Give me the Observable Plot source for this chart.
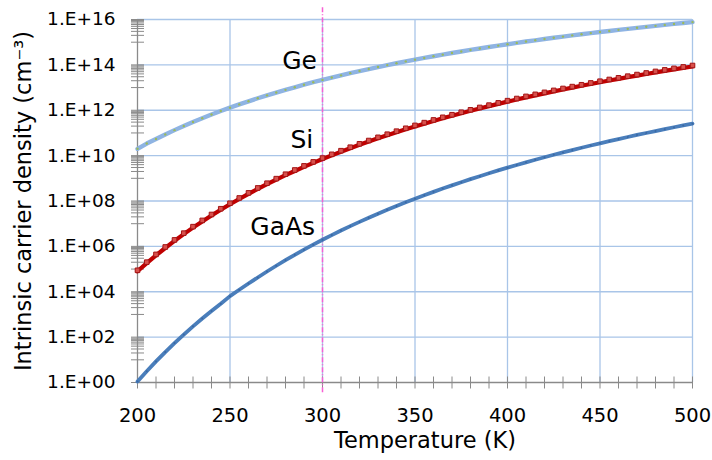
<!DOCTYPE html>
<html><head><meta charset="utf-8">
<script src="https://cdn.jsdelivr.net/npm/d3@7"></script>
<script src="https://cdn.jsdelivr.net/npm/@observablehq/plot@0.6"></script>
<style>html,body{margin:0;padding:0;background:#fff}#chart{width:712px;height:460px}</style>
</head><body><div id="chart"></div>
<script>
// ---- Data ----
const temperatureK = [200,205,210,215,220,225,230,235,240,245,250,255,260,265,270,275,280,285,290,295,
  300,305,310,315,320,325,330,335,340,345,350,355,360,365,370,375,380,385,390,395,
  400,405,410,415,420,425,430,435,440,445,450,455,460,465,470,475,480,485,490,495,500];
const geDensity = [2.0e10,3.4e10,5.4e10,8.6e10,1.33e11,2.03e11,3.04e11,4.46e11,6.47e11,9.23e11,
  1.30e12,1.81e12,2.48e12,3.37e12,4.53e12,6.02e12,7.93e12,1.03e13,1.34e13,1.72e13,
  2.18e13,2.76e13,3.46e13,4.31e13,5.34e13,6.56e13,8.03e13,9.76e13,1.18e14,1.42e14,
  1.70e14,2.02e14,2.40e14,2.83e14,3.33e14,3.90e14,4.55e14,5.29e14,6.13e14,7.07e14,
  8.13e14,9.32e14,1.07e15,1.21e15,1.38e15,1.56e15,1.76e15,1.99e15,2.24e15,2.51e15,
  2.81e15,3.13e15,3.49e15,3.88e15,4.30e15,4.76e15,5.25e15,5.79e15,6.38e15,7.00e15,7.68e15];
const siDensity = [7.97e4,1.82e5,4.00e5,8.49e5,1.74e6,3.46e6,6.69e6,1.26e7,2.30e7,4.12e7,
  7.19e7,1.23e8,2.06e8,3.40e8,5.49e8,8.72e8,1.37e9,2.10e9,3.19e9,4.78e9,
  7.06e9,1.03e10,1.49e10,2.12e10,3.00e10,4.18e10,5.79e10,7.93e10,1.08e11,1.45e11,
  1.94e11,2.57e11,3.38e11,4.41e11,5.72e11,7.37e11,9.44e11,1.20e12,1.52e12,1.91e12,
  2.39e12,2.97e12,3.68e12,4.53e12,5.55e12,6.77e12,8.23e12,9.95e12,1.20e13,1.44e13,
  1.72e13,2.05e13,2.43e13,2.87e13,3.38e13,3.97e13,4.65e13,5.43e13,6.32e13,7.33e13,8.48e13];
const gaasDensity = [1.10e0,3.14e0,8.50e0,2.20e1,5.45e1,1.30e2,2.99e2,6.62e2,1.42e3,2.96e3,
  6.40e3,1.22e4,2.30e4,4.25e4,7.79e4,1.40e5,2.46e5,4.23e5,7.17e5,1.19e6,
  1.95e6,3.14e6,4.98e6,7.79e6,1.20e7,1.83e7,2.75e7,4.09e7,6.02e7,8.74e7,
  1.26e8,1.79e8,2.53e8,3.54e8,4.90e8,6.74e8,9.19e8,1.24e9,1.67e9,2.23e9,
  2.94e9,3.87e9,5.06e9,6.57e9,8.48e9,1.09e10,1.39e10,1.76e10,2.22e10,2.79e10,
  3.49e10,4.34e10,5.38e10,6.63e10,8.14e10,9.95e10,1.21e11,1.47e11,1.78e11,2.14e11,2.57e11];

const xTickValues = [200,250,300,350,400,450,500];
const xTickLabels = ["200","250","300","350","400","450","500"];
const yTickValues = [1e0,1e2,1e4,1e6,1e8,1e10,1e12,1e14,1e16];
const yTickLabels = ["1.E+00","1.E+02","1.E+04","1.E+06","1.E+08","1.E+10","1.E+12","1.E+14","1.E+16"];
const materialNames = ["Ge","Si","GaAs"];
const materialLabelT = [297,295,296];
const materialLabelN = [1.5e14,5.0e10,6.9e6];
const referenceTemperature = 300;
const xTitle = "Temperature (K)";
const yTitle = "Intrinsic carrier density (cm\u207B\u00B3)";

// ---- Derived tables ----
const series = (vals) => temperatureK.map((T, i) => ({T, n: vals[i]}));
const ge = series(geDensity), si = series(siDensity), gaas = series(gaasDensity);
const xMinor = d3.range(200, 501, 10);
const yMinor = [];
for (let e = 0; e <= 16; e += 2) {
  yMinor.push(Math.pow(10, e));
  if (e < 16) for (let k = 1; k <= 9; k++) yMinor.push(k * Math.pow(10, e + 1));
}
const labels = materialNames.map((name, i) => ({name, T: materialLabelT[i], n: materialLabelN[i]}));
const xTicks = xTickValues.map((v, i) => ({v, label: xTickLabels[i]}));
const yTicks = yTickValues.map((v, i) => ({v, label: yTickLabels[i]}));

const hTick = {draw(ctx, size) { const r = Math.sqrt(size / Math.PI); ctx.moveTo(-r, 0); ctx.lineTo(r, 0); }};
const vTick = {draw(ctx, size) { const r = Math.sqrt(size / Math.PI); ctx.moveTo(0, -r); ctx.lineTo(0, r); }};

const font = "'DejaVu Sans', Verdana, sans-serif";
const gridColor = "#a9c5e8";
const axisColor = "#8a8a8a";

const chart = Plot.plot({
  width: 712, height: 460,
  marginLeft: 137, marginRight: 20, marginTop: 19, marginBottom: 78,
  style: {fontFamily: font, background: "#fff", overflow: "visible"},
  x: {domain: [200, 500], axis: null},
  y: {type: "log", domain: [1, 1e16], axis: null},
  marks: [
    Plot.ruleY(yTickValues.slice(1), {stroke: gridColor, strokeWidth: 1.3}),
    Plot.ruleX(xTickValues.slice(1), {y1: 1, y2: 1e16, stroke: gridColor, strokeWidth: 1.3}),
    Plot.ruleX([200], {y1: 1, y2: 1e16, stroke: axisColor, strokeWidth: 1.3}),
    Plot.ruleY([1], {x1: 200, x2: 500, stroke: axisColor, strokeWidth: 1.3}),
    Plot.dot(yMinor, {x: () => 200, y: d => d, symbol: hTick, r: 6.5, fill: "none", stroke: axisColor, strokeWidth: 1}),
    Plot.dot(xMinor, {x: d => d, y: () => 1, symbol: vTick, r: 6, fill: "none", stroke: axisColor, strokeWidth: 1}),
    Plot.ruleX([referenceTemperature], {y1: 0.35, y2: 4e16, stroke: "#f85fd4", strokeWidth: 1.5, strokeDasharray: "5,2,1,2"}),
    Plot.line(gaas, {x: "T", y: "n", stroke: "#4a7ebb", strokeWidth: 3.8}),
    Plot.dot(gaas, {x: "T", y: "n", r: 1, fill: "#3a68a3"}),
    Plot.line(si, {x: "T", y: "n", stroke: "#c00000", strokeWidth: 4.2}),
    Plot.dot(si, {x: "T", y: "n", symbol: "square", r: 2.6, fill: "#d9504c", stroke: "#a31515", strokeWidth: 1, dy: -1}),
    Plot.line(ge, {x: "T", y: "n", stroke: "#8fb4e3", strokeWidth: 4.4}),
    Plot.dot(ge, {x: "T", y: "n", r: 1.2, fill: "#9bbb59"}),
    Plot.text(labels, {x: "T", y: "n", text: "name", textAnchor: "end", fontSize: 25, fill: "#000"}),
    Plot.text(yTicks, {x: () => 200, y: "v", text: "label", textAnchor: "end", dx: -22, fontSize: 18.5, fill: "#000"}),
    Plot.text(xTicks, {x: "v", y: () => 1, text: "label", dy: 33, fontSize: 19.5, fill: "#000"}),
    Plot.text([xTitle], {frameAnchor: "bottom", textAnchor: "middle", dx: 10, dy: 58, lineAnchor: "middle", fontSize: 22.5, fill: "#000"}),
    Plot.text([yTitle], {frameAnchor: "left", textAnchor: "middle", dx: -114, rotate: -90, lineAnchor: "middle", fontSize: 22.5, fill: "#000"})
  ]
});
document.getElementById("chart").appendChild(chart);
</script>
</body></html>
